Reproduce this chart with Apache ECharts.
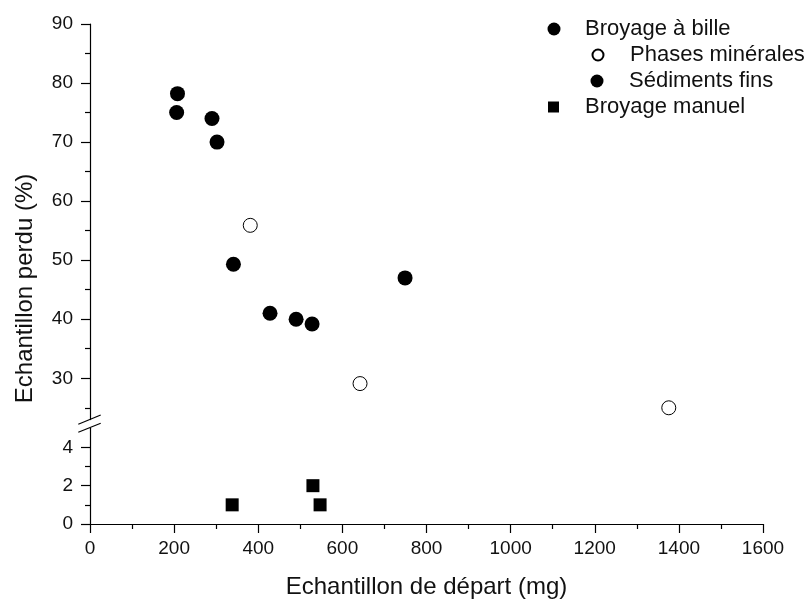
<!DOCTYPE html>
<html>
<head>
<meta charset="utf-8">
<script src="https://cdn.jsdelivr.net/npm/echarts@6/dist/echarts.min.js"></script>
<style>
  html, body { margin: 0; padding: 0; background: #fff; }
  #main { width: 810px; height: 602px; }
</style>
</head>
<body>
<div id="main"></div>
<script>
// donnees
var finsX = [208, 206, 290, 302, 341, 428, 490, 528, 749];
var finsY = [78.2, 75, 74, 70, 49.3, 41, 40, 39.2, 47];
var mineralX = [381, 642, 1376];
var mineralY = [55.9, 29.1, 25.0];
var manuelX = [338, 530, 547];
var manuelY = [1, 2, 1];

var topMajor = [30, 40, 50, 60, 70, 80, 90];
var topMinor = [25, 35, 45, 55, 65, 75, 85];
var lowMajor = [0, 2, 4];
var lowMinor = [1, 3];

function pairs(xs, ys) {
  return xs.map(function (x, i) { return [x, ys[i]]; });
}

var FONT = '"Liberation Sans", Arial, sans-serif';
var chart = echarts.init(document.getElementById('main'), null, { renderer: 'canvas' });

var lineStyle = { color: '#000', width: 1.2 };
var plain = function (v) { return String(v); };

function legendRow(name, icon, size, left, top, gap) {
  return {
    data: [{ name: name, icon: icon }],
    left: left,
    top: top,
    padding: 0,
    itemWidth: size,
    itemHeight: size,
    selectedMode: false,
    formatter: function (n) { return '{g|}' + n; },
    textStyle: {
      fontFamily: FONT, fontSize: 22, color: '#111', lineHeight: 22,
      rich: { g: { width: gap } }
    }
  };
}

var option = {
  backgroundColor: '#fff',
  animation: false,
  textStyle: { fontFamily: FONT },
  grid: [
    { left: 90, right: 47, top: 24, height: 395.6 },
    { left: 90, right: 47, top: 428.2, height: 95.8 }
  ],
  xAxis: [
    { gridIndex: 0, type: 'value', min: 0, max: 1600, show: false },
    {
      gridIndex: 1, type: 'value', min: 0, max: 1600, interval: 200,
      name: 'Echantillon de départ (mg)',
      nameLocation: 'middle', nameGap: 51,
      nameTextStyle: { fontFamily: FONT, fontSize: 24, color: '#111' },
      axisLine: { lineStyle: lineStyle },
      axisTick: { length: 9, lineStyle: lineStyle },
      minorTick: { show: true, splitNumber: 2, length: 5, lineStyle: lineStyle },
      axisLabel: { formatter: plain, fontFamily: FONT, fontSize: 19, color: '#111', margin: 15 },
      splitLine: { show: false }
    }
  ],
  yAxis: [
    {
      gridIndex: 0, type: 'value', min: 23, max: 90, position: 'left',
      axisLine: { show: true, lineStyle: lineStyle },
      axisTick: { show: true, length: 9, customValues: topMajor, lineStyle: lineStyle },
      axisLabel: { customValues: topMajor, formatter: plain, fontFamily: FONT, fontSize: 19, color: '#111', margin: 17 },
      splitLine: { show: false }
    },
    {
      gridIndex: 1, type: 'value', min: 0, max: 5, position: 'left',
      axisLine: { show: true, lineStyle: lineStyle },
      axisTick: { show: true, length: 9, customValues: lowMajor, lineStyle: lineStyle },
      axisLabel: { customValues: lowMajor, formatter: plain, fontFamily: FONT, fontSize: 19, color: '#111', margin: 17 },
      splitLine: { show: false }
    },
    {
      gridIndex: 0, type: 'value', min: 23, max: 90, position: 'left',
      axisLine: { show: false },
      axisTick: { show: true, length: 5, customValues: topMinor, lineStyle: lineStyle },
      axisLabel: { show: false },
      splitLine: { show: false }
    },
    {
      gridIndex: 1, type: 'value', min: 0, max: 5, position: 'left',
      axisLine: { show: false },
      axisTick: { show: true, length: 5, customValues: lowMinor, lineStyle: lineStyle },
      axisLabel: { show: false },
      splitLine: { show: false }
    }
  ],
  legend: [
    legendRow('Broyage à bille', 'circle', 13, 547.5, 18, 19.5),
    legendRow('Phases minérales', 'circle', 11, 591.5, 44, 21.5),
    legendRow('Sédiments fins', 'circle', 13, 590.5, 70, 20.5),
    legendRow('Broyage manuel', 'rect', 11, 548, 96, 21)
  ],
  graphic: [
    {
      type: 'text', x: 25, y: 288.5, rotation: Math.PI / 2,
      style: {
        text: 'Echantillon perdu (%)', font: '24px ' + FONT, fill: '#111',
        align: 'center', verticalAlign: 'middle'
      }
    },
    {
      type: 'line', shape: { x1: 78.3, y1: 424.3, x2: 100.7, y2: 415 },
      style: { stroke: '#000', lineWidth: 1.2 }
    },
    {
      type: 'line', shape: { x1: 78.3, y1: 432.3, x2: 100.7, y2: 423.3 },
      style: { stroke: '#000', lineWidth: 1.2 }
    }
  ],
  series: [
    {
      name: 'Broyage à bille', type: 'scatter', xAxisIndex: 0, yAxisIndex: 0,
      symbol: 'circle', symbolSize: 15, itemStyle: { color: '#000', opacity: 1 }, data: []
    },
    {
      name: 'Phases minérales', type: 'scatter', xAxisIndex: 0, yAxisIndex: 0,
      symbol: 'circle', symbolSize: 14,
      itemStyle: { color: '#fff', borderColor: '#000', borderWidth: 1, opacity: 1 },
      data: pairs(mineralX, mineralY)
    },
    {
      name: 'Sédiments fins', type: 'scatter', xAxisIndex: 0, yAxisIndex: 0,
      symbol: 'circle', symbolSize: 15, itemStyle: { color: '#000', opacity: 1 },
      data: pairs(finsX, finsY)
    },
    {
      name: 'Broyage manuel', type: 'scatter', xAxisIndex: 1, yAxisIndex: 1,
      symbol: 'rect', symbolSize: 13, itemStyle: { color: '#000', opacity: 1 },
      data: pairs(manuelX, manuelY)
    }
  ]
};

chart.setOption(option);
</script>
</body>
</html>
